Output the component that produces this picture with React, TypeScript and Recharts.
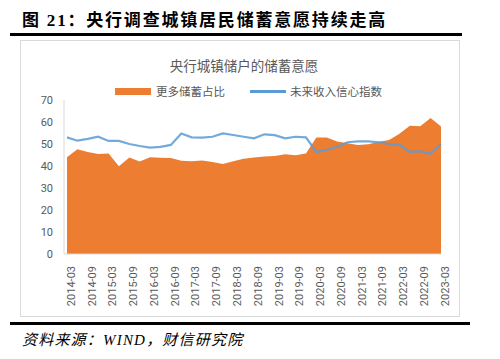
import { ComposedChart, Area, Line, XAxis, YAxis, Legend } from 'recharts'

// quarterly survey, 2014Q1 - 2023Q1
const quarters = [
  '2014-03', '2014-06', '2014-09', '2014-12',
  '2015-03', '2015-06', '2015-09', '2015-12',
  '2016-03', '2016-06', '2016-09', '2016-12',
  '2017-03', '2017-06', '2017-09', '2017-12',
  '2018-03', '2018-06', '2018-09', '2018-12',
  '2019-03', '2019-06', '2019-09', '2019-12',
  '2020-03', '2020-06', '2020-09', '2020-12',
  '2021-03', '2021-06', '2021-09', '2021-12',
  '2022-03', '2022-06', '2022-09', '2022-12',
  '2023-03',
]

// 更多储蓄占比
const moreSaving = [
  44.0, 47.6, 46.4, 45.4, 45.7, 39.9, 43.9, 42.0,
  44.0, 43.7, 43.6, 42.4, 42.2, 42.5, 41.8, 40.9,
  42.2, 43.3, 43.9, 44.3, 44.6, 45.3, 44.9, 45.7,
  53.0, 53.0, 51.1, 50.3, 49.6, 49.9, 51.0, 51.8,
  54.7, 58.3, 58.1, 61.8, 58.0,
]

// 未来收入信心指数
const incomeConfidence = [
  53.0, 51.5, 52.3, 53.3, 51.4, 51.4, 50.0, 49.1,
  48.4, 48.7, 49.6, 54.8, 53.0, 52.9, 53.3, 54.8,
  54.1, 53.3, 52.6, 54.4, 54.0, 52.6, 53.3, 53.0,
  46.4, 47.3, 48.8, 50.8, 51.2, 51.2, 50.8, 50.0,
  49.6, 46.4, 46.7, 45.5, 50.0,
]

const yTicks = [0, 10, 20, 30, 40, 50, 60, 70]

const data = quarters.map((q, i) => ({
  q,
  save: moreSaving[i],
  conf: incomeConfidence[i],
}))

const ORANGE = '#ED7D31'
const BLUE = '#5B9BD5'
const GREY = '#595959'

function ChartLegend() {
  return (
    <div style={{ display: 'flex', height: 18, alignItems: 'center', paddingLeft: 94, fontSize: 11.5, color: GREY, fontFamily: '"Noto Sans CJK SC", sans-serif' }}>
      <span style={{ display: 'inline-block', width: 36, height: 7, background: ORANGE, marginRight: 5 }} />
      <span>更多储蓄占比</span>
      <span style={{ display: 'inline-block', width: 36, height: 3, background: BLUE, marginLeft: 25, marginRight: 4 }} />
      <span>未来收入信心指数</span>
    </div>
  )
}

export default function App() {
  return (
    <div style={{ position: 'absolute', left: 0, top: 0, width: 500, height: 359, background: '#fff', fontFamily: '"Noto Sans CJK SC", sans-serif' }}>
      <div style={{ position: 'absolute', left: 22, top: 6, fontSize: 17, fontWeight: 700, color: '#000', letterSpacing: 1.8, fontFamily: '"Liberation Serif", "Noto Sans CJK SC", serif', whiteSpace: 'nowrap' }}>
        图 21：央行调查城镇居民储蓄意愿持续走高
      </div>
      <div style={{ position: 'absolute', left: 10, top: 33, width: 452, height: 3, background: '#000' }} />

      <div style={{ position: 'absolute', left: 20, top: 40, width: 438, height: 275, border: '1px solid #D9D9D9' }}>
        <div style={{ position: 'absolute', left: 0, width: 438, top: 14, textAlign: 'center', fontSize: 13.5, color: GREY, paddingLeft: 4 }}>
          央行城镇储户的储蓄意愿
        </div>
        <ComposedChart width={438} height={275} data={data} margin={{ top: 41, right: 18, bottom: 0, left: 0 }}>
          <Legend verticalAlign="top" align="left" content={() => <ChartLegend />} />
          <XAxis
            dataKey="q"
            scale="point"
            interval={1}
            padding={{ left: 3, right: 0 }}
            axisLine={{ stroke: '#D9D9D9' }}
            tickLine={false}
            angle={-90}
            textAnchor="end"
            tickMargin={6}
            height={62}
            tick={{ fontSize: 11, fill: GREY, fontFamily: 'Roboto, sans-serif' }}
          />
          <YAxis
            domain={[0, 70]}
            ticks={yTicks}
            width={43}
            axisLine={{ stroke: '#D9D9D9' }}
            tickLine={false}
            tickMargin={5}
            tick={{ fontSize: 11, fill: GREY, fontFamily: 'Roboto, sans-serif' }}
          />
          <Area
            type="linear"
            dataKey="save"
            name="更多储蓄占比"
            stroke={ORANGE}
            strokeWidth={0}
            fill={ORANGE}
            fillOpacity={1}
            isAnimationActive={false}
          />
          <Line
            type="linear"
            dataKey="conf"
            name="未来收入信心指数"
            stroke={BLUE}
            strokeWidth={2.2}
            strokeOpacity={0.85}
            dot={false}
            isAnimationActive={false}
          />
        </ComposedChart>
      </div>

      <div style={{ position: 'absolute', left: 10, top: 322, width: 460, height: 3, background: '#000' }} />
      <div style={{ position: 'absolute', left: 22, top: 328, fontSize: 15, fontStyle: 'italic', color: '#000', letterSpacing: 1.2, fontFamily: '"Liberation Serif", "Noto Sans CJK SC", serif', whiteSpace: 'nowrap' }}>
        资料来源：WIND，财信研究院
      </div>
    </div>
  )
}
